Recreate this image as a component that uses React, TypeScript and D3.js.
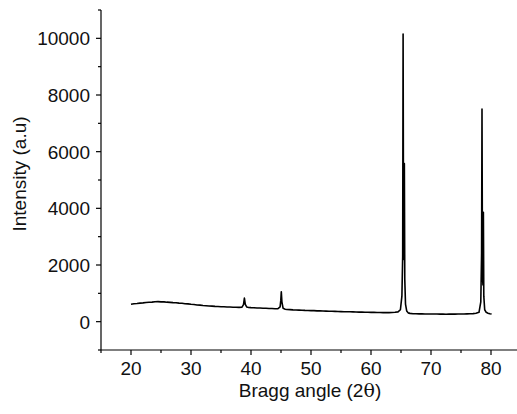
import React from 'react';
import * as d3 from 'd3';

// XRD pattern
const angles = [
  20.0, 20.5, 21.0, 21.5, 22.0, 22.5, 23.0, 23.5, 24.0, 24.5, 25.0, 25.5, 26.0, 26.5, 27.0, 27.5,
  28.0, 28.5, 29.0, 29.5, 30.0, 30.5, 31.0, 31.5, 32.0, 32.5, 33.0, 33.5, 34.0, 34.5, 35.0, 35.5,
  36.0, 36.5, 37.0, 37.5, 38.0, 38.5, 38.75, 38.9, 39.05, 39.3, 39.6, 40.0, 40.5, 41.0, 41.5, 42.0,
  42.5, 43.0, 43.5, 44.0, 44.5, 44.85, 44.97, 45.05, 45.15, 45.35, 45.7, 46.0, 46.5, 47.0, 47.5,
  48.0, 48.5, 49.0, 49.5, 50.0, 50.5, 51.0, 51.5, 52.0, 52.5, 53.0, 53.5, 54.0, 54.5, 55.0, 55.5,
  56.0, 56.5, 57.0, 57.5, 58.0, 58.5, 59.0, 59.5, 60.0, 60.5, 61.0, 61.5, 62.0, 62.5, 63.0, 63.5,
  64.0, 64.5, 64.9, 65.15, 65.28, 65.35, 65.43, 65.5, 65.56, 65.63, 65.75, 65.95, 66.2, 66.5,
  67.0, 67.5, 68.0, 68.5, 69.0, 69.5, 70.0, 70.5, 71.0, 71.5, 72.0, 72.5, 73.0, 73.5, 74.0, 74.5,
  75.0, 75.5, 76.0, 76.5, 77.0, 77.5, 78.0, 78.3, 78.43, 78.5, 78.58, 78.66, 78.73, 78.8, 78.95,
  79.2, 79.5, 79.8, 80.1,
];
const intensity = [
  615, 632, 640, 655, 662, 676, 684, 690, 702, 706, 698, 697, 688, 682, 672, 668,
  655, 648, 634, 628, 612, 604, 588, 584, 570, 562, 553, 550, 540, 536, 528, 526,
  518, 516, 508, 510, 503, 512, 600, 830, 610, 515, 500, 494, 492, 484, 482, 474,
  472, 465, 463, 456, 462, 520, 760, 1050, 700, 470, 440, 428, 426, 416, 414,
  408, 404, 398, 396, 390, 388, 382, 380, 376, 372, 370, 366, 362, 360, 356, 352,
  350, 348, 344, 342, 338, 336, 334, 330, 328, 330, 326, 324, 320, 322, 318, 324,
  330, 345, 420, 900, 2300, 10150, 2200, 3000, 5580, 1500, 620, 380, 310, 292,
  282, 280, 276, 274, 272, 272, 270, 268, 270, 266, 268, 264, 266, 268, 266, 268,
  270, 272, 274, 278, 284, 296, 330, 700, 2400, 7500, 1600, 1300, 3860, 900, 420,
  330, 300, 282, 272,
];

const xTicks = [20, 30, 40, 50, 60, 70, 80];
const xMinor = [15, 25, 35, 45, 55, 65, 75, 85];
const yTicks = [0, 2000, 4000, 6000, 8000, 10000];
const yMinor = [-1000, 1000, 3000, 5000, 7000, 9000, 11000];

const W = 517;
const H = 414;
const left = 101;
const right = 521;
const top = 10;
const bottom = 350;
const font = 'Liberation Sans, Arial, sans-serif';

export default function App() {
  const x = d3.scaleLinear().domain([15, 85]).range([left, right]);
  const y = d3.scaleLinear().domain([-1000, 11000]).range([bottom, top]);

  const pts: [number, number][] = angles.map((a, i) => [a, intensity[i]]);
  const line = d3.line<[number, number]>()
    .x(d => x(d[0]))
    .y(d => y(d[1]));

  return (
    <svg width={W} height={H} style={{position: 'absolute', left: 0, top: 0, background: '#fff'}}>
      <rect width={W} height={H} fill="#fff" />
      <path d={line(pts) || ''} fill="none" stroke="#000" strokeWidth={1.6} strokeLinejoin="round" />

      {/* axes */}
      <line x1={left} x2={left} y1={top} y2={bottom} stroke="#000" strokeWidth={1.2} />
      <line x1={left} x2={W} y1={bottom} y2={bottom} stroke="#000" strokeWidth={1.2} />

      {xTicks.map(t => (
        <g key={'x' + t}>
          <line x1={x(t)} x2={x(t)} y1={bottom} y2={bottom + 5} stroke="#000" strokeWidth={1.2} />
          <text x={x(t)} y={375} textAnchor="middle" fontFamily={font} fontSize={19} fill="#111">{t}</text>
        </g>
      ))}
      {xMinor.map(t => (
        <line key={'xm' + t} x1={x(t)} x2={x(t)} y1={bottom} y2={bottom + 3} stroke="#000" strokeWidth={1.2} />
      ))}

      {yTicks.map(t => (
        <g key={'y' + t}>
          <line x1={left - 5} x2={left} y1={y(t)} y2={y(t)} stroke="#000" strokeWidth={1.2} />
          <text x={90} y={y(t) + 7} textAnchor="end" fontFamily={font} fontSize={19} fill="#111">{t}</text>
        </g>
      ))}
      {yMinor.map(t => (
        <line key={'ym' + t} x1={left - 3} x2={left} y1={y(t)} y2={y(t)} stroke="#000" strokeWidth={1.2} />
      ))}

      <text x={310} y={397} textAnchor="middle" fontFamily={font} fontSize={19} fill="#111">
        Bragg angle (2<tspan fontFamily="DejaVu Serif, serif">θ</tspan>)
      </text>
      <text transform="translate(26,174) rotate(-90)" textAnchor="middle" fontFamily={font} fontSize={19} fill="#111">
        Intensity (a.u)
      </text>
    </svg>
  );
}
